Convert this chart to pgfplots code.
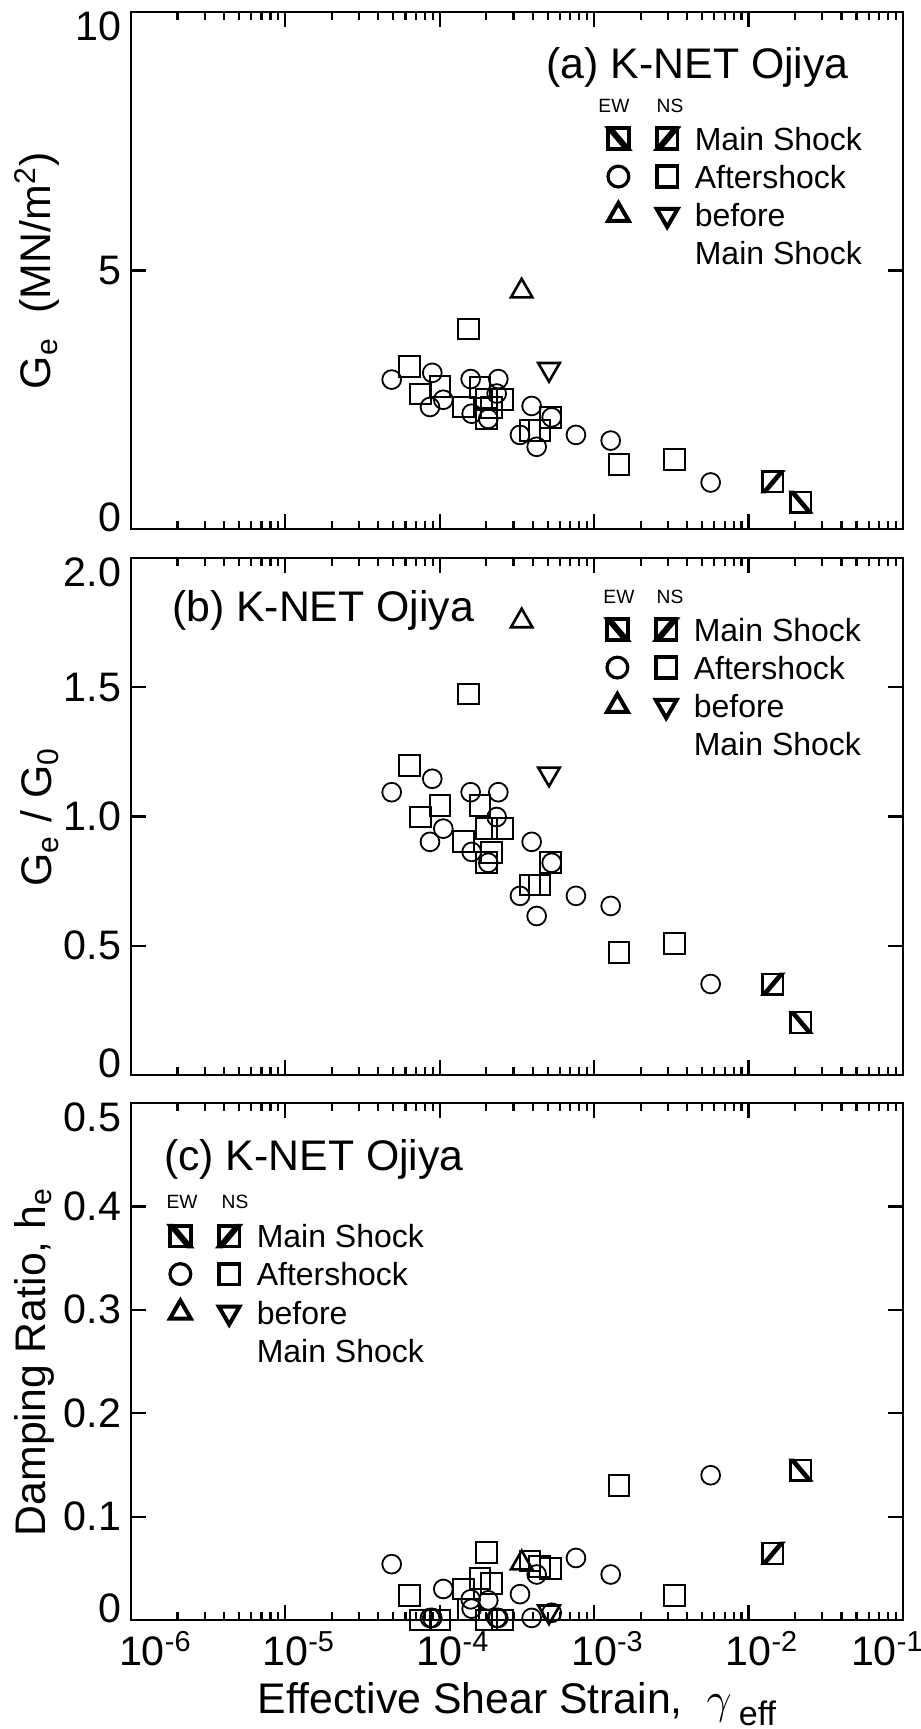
\documentclass[border=0pt]{standalone}
\usepackage{fontspec}
\setmainfont{Liberation Sans}
\usepackage{pgfplots}
\usepackage{pgfplotstable}
\pgfplotsset{compat=1.18}

\pgfdeclareplotmark{ewsq}{%
  \pgfpathrectangle{\pgfpoint{-\pgfplotmarksize}{-\pgfplotmarksize}}{\pgfpoint{2\pgfplotmarksize}{2\pgfplotmarksize}}%
  \pgfusepathqstroke
  \pgfpathmoveto{\pgfpoint{-\pgfplotmarksize}{\pgfplotmarksize}}%
  \pgfpathlineto{\pgfpoint{-\pgfplotmarksize+0.8pt}{\pgfplotmarksize}}%
  \pgfpathlineto{\pgfpoint{\pgfplotmarksize}{-\pgfplotmarksize}}%
  \pgfpathlineto{\pgfpoint{\pgfplotmarksize-0.8pt}{-\pgfplotmarksize}}%
  \pgfpathclose
  \pgfusepathqfillstroke
}
\pgfdeclareplotmark{nssq}{%
  \pgfpathrectangle{\pgfpoint{-\pgfplotmarksize}{-\pgfplotmarksize}}{\pgfpoint{2\pgfplotmarksize}{2\pgfplotmarksize}}%
  \pgfusepathqstroke
  \pgfpathmoveto{\pgfpoint{-\pgfplotmarksize}{-\pgfplotmarksize}}%
  \pgfpathlineto{\pgfpoint{-\pgfplotmarksize+0.8pt}{-\pgfplotmarksize}}%
  \pgfpathlineto{\pgfpoint{\pgfplotmarksize}{\pgfplotmarksize}}%
  \pgfpathlineto{\pgfpoint{\pgfplotmarksize-0.8pt}{\pgfplotmarksize}}%
  \pgfpathclose
  \pgfusepathqfillstroke
}

\pgfplotstableread{
x ge ratio h
4.88e-5 2.89 1.094 0.054
8.94e-5 3.02 1.146 0.002
1.054e-4 2.50 0.953 0.030
8.64e-5 2.36 0.902 0.002
1.585e-4 2.90 1.094 0.020
2.393e-4 2.90 1.094 0.002
2.336e-4 2.62 0.998 0.002
1.609e-4 2.23 0.863 0.011
2.061e-4 2.13 0.821 0.019
3.936e-4 2.38 0.902 0.002
3.307e-4 1.82 0.693 0.025
4.241e-4 1.59 0.615 0.044
5.307e-4 2.16 0.821 0.007
7.62e-4 1.82 0.693 0.060
1.279e-3 1.71 0.654 0.044
5.68e-3 0.90 0.352 0.140
}\ewafter

\pgfplotstableread{
x ge ratio h
6.34e-5 3.15 1.197 0.024
7.52e-5 2.61 0.998 0.000
1.003e-4 2.75 1.043 0.000
1.420e-4 2.36 0.904 0.030
1.530e-4 3.87 1.474 0.010
1.822e-4 2.74 1.043 0.040
2.013e-4 2.50 0.953 0.000
2.555e-4 2.50 0.953 0.000
2.168e-4 2.35 0.861 0.035
2.013e-4 2.13 0.821 0.065
3.838e-4 1.91 0.735 0.057
4.408e-4 1.91 0.735 0.052
5.228e-4 2.16 0.821 0.050
1.447e-3 1.24 0.474 0.130
3.303e-3 1.34 0.510 0.024
}\nsafter

\pgfplotstableread{
x ge ratio h
3.392e-4 4.60 1.756 0.055
}\ewbefore

\pgfplotstableread{
x ge ratio h
5.097e-4 3.09 1.165 0.008
}\nsbefore

\pgfplotstableread{
x ge ratio h
1.439e-2 0.91 0.352 0.0646
}\nsmain

\pgfplotstableread{
x ge ratio h
2.184e-2 0.52 0.204 0.145
}\ewmain

\pgfplotsset{
  every axis/.append style={
    scale only axis, width=193pt, height=129.25pt,
    xmin=1e-6, xmax=1e-1,
    xtick={1e-6,1e-5,1e-4,1e-3,1e-2,1e-1},
    minor xtick={2e-6,3e-6,4e-6,5e-6,6e-6,7e-6,8e-6,9e-6,
                 2e-5,3e-5,4e-5,5e-5,6e-5,7e-5,8e-5,9e-5,
                 2e-4,3e-4,4e-4,5e-4,6e-4,7e-4,8e-4,9e-4,
                 2e-3,3e-3,4e-3,5e-3,6e-3,7e-3,8e-3,9e-3,
                 2e-2,3e-2,4e-2,5e-2,6e-2,7e-2,8e-2,9e-2},
    tick align=inside, xtick pos=both, ytick pos=both,
    major tick length=3.75pt, minor tick length=2pt,
    tick style={black, line width=0.55pt},
    axis line style={line width=0.65pt},
    tick label style={font=\fontsize{10.3}{12}\selectfont},
    yticklabel style={inner xsep=2.25pt},
    xticklabel style={anchor=base, yshift=-11.4pt, inner sep=0pt},
    label style={font=\fontsize{10.7}{13}\selectfont},
    clip=false,
    legend cell align=left, legend columns=2,
    legend style={draw=none, fill=none, inner sep=0pt, outer sep=0pt,
      anchor=north west, column sep=3.0pt, row sep=3.7pt,
      font=\fontsize{8}{9.6}\selectfont,
      nodes={inner sep=0pt, text height=5.8pt, text depth=0pt}},
  },
  every axis y label/.style={rotate=90, anchor=center},
  every axis x label/.style={at={(rel axis cs:0.5,0)}, anchor=base, yshift=-23.25pt},
}

\newcommand{\legendrows}{%
  \addlegendimage{legend image code/.code={\draw[black, line width=0.9pt, mark size=2.6pt, mark options={fill=black}] plot[only marks, mark=ewsq] coordinates {(0pt,0pt)};}}
  \addlegendentry{\mbox{}}
  \addlegendimage{legend image code/.code={\draw[black, line width=0.9pt, mark size=2.6pt, mark options={fill=black}] plot[only marks, mark=nssq] coordinates {(0pt,0pt)};}}
  \addlegendentry{\hspace*{1.3pt}Main Shock}
  \addlegendimage{legend image code/.code={\draw[black, line width=0.8pt, mark size=2.6pt] plot[only marks, mark=o] coordinates {(0pt,0pt)};}}
  \addlegendentry{\mbox{}}
  \addlegendimage{legend image code/.code={\draw[black, line width=0.9pt, mark size=2.6pt] plot[only marks, mark=square] coordinates {(0pt,0pt)};}}
  \addlegendentry{\hspace*{1.3pt}Aftershock}
  \addlegendimage{legend image code/.code={\draw[black, line width=1.0pt, mark size=3.0pt] plot[only marks, mark=triangle] coordinates {(0pt,0pt)};}}
  \addlegendentry{\mbox{}}
  \addlegendimage{legend image code/.code={\draw[black, line width=1.0pt, mark size=3.0pt, mark options={rotate=180}] plot[only marks, mark=triangle] coordinates {(0pt,0pt)};}}
  \addlegendentry{\hspace*{1.3pt}before}
  \addlegendimage{empty legend}
  \addlegendentry{\mbox{}}
  \addlegendimage{empty legend}
  \addlegendentry{\hspace*{1.3pt}Main Shock}
}

\newcommand{\allplots}[1]{%
  \addplot[only marks, mark=o, mark size=2.35pt, line width=0.45pt, black, forget plot] table[x=x, y=#1] {\ewafter};
  \addplot[only marks, mark=square, mark size=2.6pt, line width=0.5pt, black, forget plot] table[x=x, y=#1] {\nsafter};
  \addplot[only marks, mark=triangle, mark size=3.1pt, line width=0.65pt, black, forget plot] table[x=x, y=#1] {\ewbefore};
  \addplot[only marks, mark=triangle, mark size=3.1pt, line width=0.65pt, black, mark options={rotate=180}, forget plot] table[x=x, y=#1] {\nsbefore};
  \addplot[only marks, mark=nssq, mark size=2.6pt, line width=0.55pt, black, mark options={fill=black}, forget plot] table[x=x, y=#1] {\nsmain};
  \addplot[only marks, mark=ewsq, mark size=2.6pt, line width=0.55pt, black, mark options={fill=black}, forget plot] table[x=x, y=#1] {\ewmain};
}

\begin{document}
\begin{tikzpicture}
\useasboundingbox (0,0) rectangle (230.25pt,432.25pt);

% ---------------- (a) ----------------
\begin{semilogxaxis}[at={(32.75pt,300pt)}, anchor=south west,
  ymin=0, ymax=10, ytick={0,5,10},
  yticklabels={{\raisebox{2.8pt}[\height][\depth]{0}},5,{\raisebox{-3.5pt}[\height][\depth]{10}}},
  xticklabels={},
  ylabel={G\textsubscript{e}\ \ (MN/m\textsuperscript{2})},
  ylabel style={at={(rel axis cs:-0.1218,0.5)}},
  legend style={at={(rel axis cs:0.6179,0.7776)}},
]
\allplots{ge}
\legendrows
\node[anchor=base east, font=\fontsize{10.7}{13}\selectfont] at (rel axis cs:0.948,0.8723) {(a) K-NET Ojiya};
\node[font=\fontsize{4.8}{6}\selectfont] at (rel axis cs:0.6256,0.8182) {EW};
\node[font=\fontsize{4.8}{6}\selectfont] at (rel axis cs:0.6982,0.8182) {NS};
\end{semilogxaxis}

% ---------------- (b) ----------------
\begin{semilogxaxis}[at={(32.75pt,163.5pt)}, anchor=south west,
  ymin=0, ymax=2, ytick={0,0.5,1,1.5,2},
  yticklabels={{\raisebox{2.8pt}[\height][\depth]{0}},0.5,1.0,1.5,{\raisebox{-3.5pt}[\height][\depth]{2.0}}},
  xticklabels={},
  ylabel={G\textsubscript{e} / G\textsubscript{0}},
  ylabel style={at={(rel axis cs:-0.118,0.5)}},
  legend style={at={(rel axis cs:0.6166,0.884)}},
]
\allplots{ratio}
\legendrows
\node[anchor=base west, font=\fontsize{10.7}{13}\selectfont] at (rel axis cs:0.035,0.8774) {(b) K-NET Ojiya};
\node[font=\fontsize{4.8}{6}\selectfont] at (rel axis cs:0.6321,0.9246) {EW};
\node[font=\fontsize{4.8}{6}\selectfont] at (rel axis cs:0.6982,0.9246) {NS};
\end{semilogxaxis}

% ---------------- (c) ----------------
\begin{semilogxaxis}[at={(32.75pt,27.25pt)}, anchor=south west,
  ymin=0, ymax=0.5, ytick={0,0.1,0.2,0.3,0.4,0.5},
  yticklabels={{\raisebox{2.8pt}[\height][\depth]{0}},0.1,0.2,0.3,0.4,{\raisebox{-3.5pt}[\height][\depth]{0.5}}},
  xticklabels={{\hspace*{5.5pt}10\rlap{\textsuperscript{-6}}},
               {10\rlap{\textsuperscript{-5}}},
               {10\rlap{\textsuperscript{-4}}},
               {10\rlap{\textsuperscript{-3}}},
               {10\rlap{\textsuperscript{-2}}},
               {10\rlap{\textsuperscript{-1}}\hspace*{14.5pt}}},
  ylabel={Damping Ratio, h\textsubscript{e}},
  ylabel style={at={(rel axis cs:-0.1256,0.5)}},
  xlabel={Effective Shear Strain,\ \ $\gamma$\,\raisebox{-3pt}{\fontsize{8.5}{10}\selectfont eff}},
  legend style={at={(rel axis cs:0.0505,0.765)}},
]
\allplots{h}
\legendrows
\node[anchor=base west, font=\fontsize{10.7}{13}\selectfont] at (rel axis cs:0.0246,0.8704) {(c) K-NET Ojiya};
\node[font=\fontsize{4.8}{6}\selectfont] at (rel axis cs:0.0661,0.8085) {EW};
\node[font=\fontsize{4.8}{6}\selectfont] at (rel axis cs:0.1347,0.8085) {NS};
\end{semilogxaxis}
\end{tikzpicture}
\end{document}
